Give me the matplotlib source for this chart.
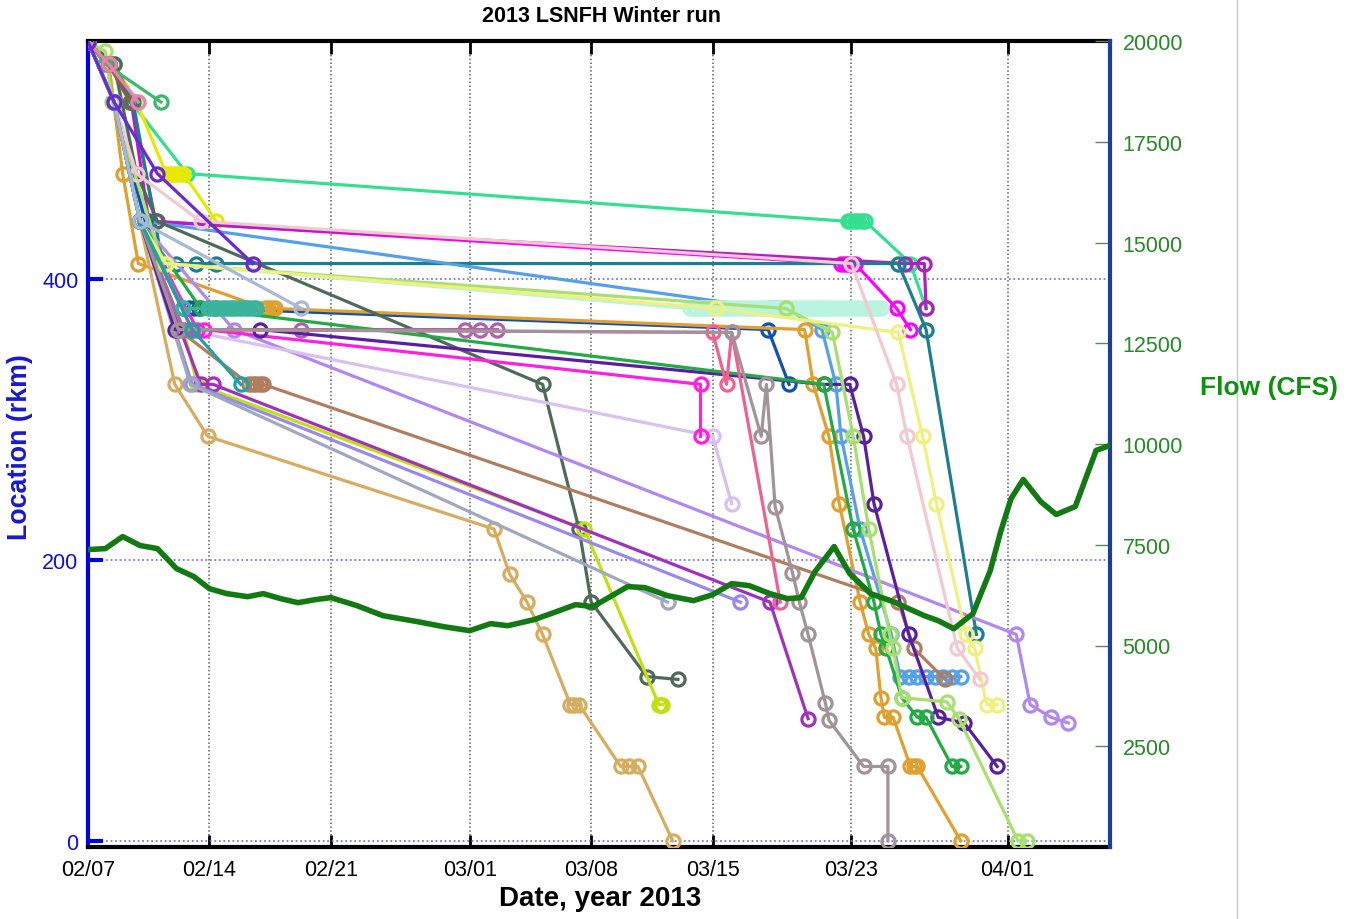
import matplotlib
matplotlib.use("Agg")
import matplotlib.pyplot as plt
from matplotlib.lines import Line2D

plt.rcParams['font.family'] = ['Liberation Sans', 'DejaVu Sans']

# ---------------- data (x = days after 02/07/2013, y = rkm) ----------------
date_ticks = [0, 7, 14, 22, 29, 36, 44, 53]
date_labels = ['02/07', '02/14', '02/21', '03/01', '03/08', '03/15', '03/23', '04/01']

flow_days = [0, 1.0, 2.0, 3.0, 4.0, 5.1, 6.1, 7.0, 8.0, 9.2, 10.1, 11.1, 12.1, 13.1, 14.0,
             15.5, 17.0, 19.0, 20.5, 22.0, 23.2, 24.2, 25.7, 27.0, 28.1, 29.1, 31.1, 32.1,
             33.4, 34.9, 36.0, 37.1, 38.1, 39.3, 40.3, 41.1, 41.9, 43.0, 43.9, 45.1, 46.4,
             48.2, 49.0, 49.9, 51.0, 52.0, 52.6, 53.2, 53.9, 54.9, 55.8, 56.9, 58.1, 58.9]
flow_cfs = [7380, 7405, 7703, 7480, 7405, 6908, 6710, 6410, 6287, 6212, 6287, 6163, 6063, 6138,
            6188, 5989, 5740, 5591, 5467, 5368, 5542, 5492, 5641, 5840, 6014, 5964, 6461, 6436,
            6237, 6113, 6262, 6536, 6486, 6287, 6163, 6188, 6834, 7455, 6784, 6287, 6088,
            5740, 5616, 5417, 5790, 6859, 7828, 8648, 9120, 8573, 8250, 8449, 9841, 9965]

f01_d = [0, 1.5, 2.5, 5.7, 43.8, 44.0, 44.2, 44.4, 44.6, 44.8, 47.4, 48.3]
f01_r = [569, 553, 526, 475, 441, 441, 441, 441, 441, 441, 411, 379]
f02_d = [0, 1.5, 2.8, 4.5, 4.7, 4.9, 5.1, 5.3, 5.5, 7.4]
f02_r = [569, 553, 526, 475, 475, 475, 475, 475, 475, 441]
f03_d = [0, 1.2, 2.5, 3.9, 43.4, 43.6, 43.8, 44.0, 44.2, 46.6, 47.4]
f03_r = [569, 553, 526, 441, 411, 411, 411, 411, 411, 379, 364]
f04_d = [0, 1.2, 2.5, 3.5, 47.1, 48.2, 48.3]
f04_r = [569, 553, 526, 441, 411, 411, 379]
f05_d = [0, 1.5, 2.6, 4.3, 5.1, 6.2, 7.4, 46.7, 48.3, 51.2]
f05_r = [569, 553, 526, 411, 411, 411, 411, 411, 364, 147]
f06_d = [0, 1.5, 3.3, 39.3, 39.6, 39.9, 40.2, 42.3, 43.1, 43.4, 44.5, 46.3, 46.8, 47.3,
         47.8, 48.3, 48.8, 49.3, 49.8, 50.3]
f06_r = [569, 526, 441, 379, 379, 379, 379, 364, 325, 288, 222, 147, 117, 117,
         117, 117, 117, 117, 117, 117]
f07_d = [0, 1.5, 3.2, 4.5,
         34.7, 34.9, 35.1, 35.3, 35.5, 35.7, 35.9, 36.1, 36.3, 36.5, 36.7, 36.9, 37.1, 37.3,
         37.5, 37.7, 37.9, 38.1, 38.3, 38.5, 38.7, 38.9, 39.1, 39.3, 39.5, 39.7, 39.9, 40.1,
         40.3, 40.5, 40.7, 40.9, 41.1, 41.3, 41.5, 41.7, 41.9, 42.1, 42.3, 42.5, 42.7, 42.9,
         43.1, 43.3, 43.5, 43.7, 43.9, 44.1, 44.3, 44.5, 44.7, 44.9, 45.1, 45.3, 45.5, 45.7]
f07_r = [569, 553, 441, 411,
         379, 379, 379, 379, 379, 379, 379, 379, 379, 379, 379, 379, 379, 379,
         379, 379, 379, 379, 379, 379, 379, 379, 379, 379, 379, 379, 379, 379,
         379, 379, 379, 379, 379, 379, 379, 379, 379, 379, 379, 379, 379, 379,
         379, 379, 379, 379, 379, 379, 379, 379, 379, 379, 379, 379, 379, 379]
f08_d = [0, 1.5, 3.3, 5.5, 5.8, 6.1, 6.4, 7.3, 39.2, 40.4]
f08_r = [569, 526, 441, 379, 379, 379, 379, 379, 364, 325]
f09_d = [0, 1.2, 2.0, 2.9, 10.2, 10.4, 10.6, 10.8, 41.3, 41.8, 42.7, 43.3, 44.5, 45.0, 45.4,
         45.7, 45.9, 46.4, 47.4, 47.6, 47.8, 50.3]
f09_r = [569, 553, 475, 411, 379, 379, 379, 379, 364, 325, 288, 240, 170, 147, 137,
         102, 88, 88, 53, 53, 53, 0]
f10_d = [0, 1.5, 5.0, 6.9, 23.4, 24.3, 25.3, 26.2, 27.8, 28.0, 28.3, 30.7, 31.2, 31.7, 33.7]
f10_r = [569, 526, 325, 288, 222, 190, 170, 147, 97, 97, 97, 53, 53, 53, 0]
f11_d = [0, 1.5, 2.8, 4.0, 26.2, 28.3, 29.0, 32.2, 34.0]
f11_r = [569, 553, 475, 441, 325, 222, 170, 117, 115]
f12_d = [0, 1.5, 3.0, 5.5, 6.3, 28.6, 32.9, 33.0, 33.1]
f12_r = [569, 526, 441, 364, 325, 222, 97, 97, 97]
f13_d = [0, 1.5, 3.0, 6.5, 7.2, 39.3, 41.5]
f13_r = [569, 526, 441, 325, 325, 170, 87]
f14_d = [0, 1.5, 3.0, 6.0, 37.6]
f14_r = [569, 526, 441, 325, 170]
f15_d = [0, 1.5, 3.0, 5.9, 33.4]
f15_r = [569, 526, 441, 325, 170]
f16_d = [0, 1.5, 3.0, 5.2, 9.3, 9.5, 9.7, 9.9, 10.1, 46.7, 47.6, 49.4]
f16_r = [569, 526, 441, 364, 325, 325, 325, 325, 325, 170, 137, 115]
f17_d = [0, 1.5, 3.0, 8.4, 53.5, 54.3, 55.5, 56.5]
f17_r = [569, 526, 441, 364, 147, 97, 88, 84]
f18_d = [0, 1.5, 3.0, 5.5, 36.0, 37.1]
f18_r = [569, 526, 441, 364, 288, 240]
f19_d = [0, 1.5, 3.0, 6.3, 6.7, 35.3, 35.3]
f19_r = [569, 526, 441, 364, 364, 325, 288]
f20_d = [0, 1.5, 3.0, 5.5, 12.3, 21.7, 22.6, 23.6]
f20_r = [569, 526, 441, 364, 364, 364, 364, 364]
f21_d = [0, 1.5, 3.0, 5.0, 9.9, 42.4, 43.9, 44.7, 45.3, 47.3, 49.0, 50.5, 52.4]
f21_r = [569, 526, 441, 364, 364, 325, 325, 288, 240, 147, 88, 84, 53]
f22_d = [0, 1.5, 3.0, 6.5, 42.4, 44.1, 45.3, 45.7, 46.0, 46.9, 47.8, 48.3, 49.8, 50.3]
f22_r = [569, 526, 441, 379, 325, 222, 170, 147, 137, 102, 88, 88, 53, 53]
f23_d = [0, 1.0, 1.4, 4.3, 40.2, 42.9, 44.1, 45.0, 46.2, 46.4, 46.9, 49.5, 50.2, 53.6, 54.1]
f23_r = [569, 562, 526, 411, 379, 362, 288, 222, 147, 137, 102, 99, 87, 0, 0]
f24_d = [0, 1.5, 3.0, 4.5, 36.2, 46.7, 48.1, 48.9, 50.6, 51.1, 51.8, 52.4]
f24_r = [569, 526, 441, 411, 379, 362, 288, 240, 147, 137, 97, 97]
f25_d = [0, 1.5, 2.8, 6.5, 44.0, 46.6, 47.2, 50.1, 51.4]
f25_r = [569, 526, 475, 441, 411, 325, 288, 137, 115]
f26_d = [0, 1.5, 3.0, 6.0, 36.0, 36.8, 37.1, 39.9]
f26_r = [569, 526, 441, 364, 362, 325, 362, 170]
f27_d = [0, 1.5, 3.0, 5.2, 37.1, 38.8, 39.1, 39.6, 40.6, 41.0, 41.5, 42.5, 42.7, 44.7, 46.1, 46.1]
f27_r = [569, 526, 441, 364, 362, 288, 325, 238, 191, 170, 147, 98, 86, 53, 53, 0]
f28_d = [0, 1.5, 3.0, 5.5, 6.9, 7.1, 7.3, 7.5, 7.7, 7.9, 8.1, 8.3, 8.5, 8.7, 8.9, 9.1, 9.3,
         9.5, 9.7]
f28_r = [569, 526, 441, 379, 379, 379, 379, 379, 379, 379, 379, 379, 379, 379, 379, 379, 379,
         379, 379]
f29_d = [0, 1.5, 3.0, 6.0, 8.8]
f29_r = [569, 526, 441, 364, 325]
f30_d = [0, 1.0, 4.2]
f30_r = [569, 553, 526]
f31_d = [0, 1.2, 2.4]
f31_r = [569, 553, 526]
f32_d = [0, 1.2, 2.9]
f32_r = [569, 553, 526]
f33_d = [0, 1.5, 3.0, 12.3]
f33_r = [569, 526, 441, 379]
f34_d = [0, 1.5, 4.0, 9.5]
f34_r = [569, 526, 475, 411]

fish_colors = ['#33e08f', '#e8e800', '#ff00ff', '#b020c0', '#1b7f8f', '#55a0e8', '#b8f4e0',
               '#1050b0', '#e0a030', '#d8ac60', '#4f6a5a', '#c0e010', '#a030c0', '#9988ee',
               '#a0a8c0', '#b07d5e', '#b088f0', '#d8c0f0', '#ff20e0', '#b060b0', '#5a1fa0',
               '#22aa44', '#a8e070', '#f0f080', '#f4c8d0', '#f06090', '#a09498', '#3bb49e',
               '#20a0a0', '#3cb86a', '#7a6a3a', '#ee80b0', '#a8b8d8', '#6a2ad0']

tracks_d = [f01_d, f02_d, f03_d, f04_d, f05_d, f06_d, f07_d, f08_d, f09_d, f10_d, f11_d, f12_d,
            f13_d, f14_d, f15_d, f16_d, f17_d, f18_d, f19_d, f20_d, f21_d, f22_d, f23_d, f24_d,
            f25_d, f26_d, f27_d, f28_d, f29_d, f30_d, f31_d, f32_d, f33_d, f34_d]
tracks_r = [f01_r, f02_r, f03_r, f04_r, f05_r, f06_r, f07_r, f08_r, f09_r, f10_r, f11_r, f12_r,
            f13_r, f14_r, f15_r, f16_r, f17_r, f18_r, f19_r, f20_r, f21_r, f22_r, f23_r, f24_r,
            f25_r, f26_r, f27_r, f28_r, f29_r, f30_r, f31_r, f32_r, f33_r, f34_r]

# ---------------- figure ----------------
fig = plt.figure(figsize=(13.59, 9.2), dpi=100)
ax = fig.add_axes([88 / 1359, 1 - 848 / 920, (1110 - 88) / 1359, (848 - 42) / 920])
ax.set_xlim(0, 58.9)
ax.set_ylim(-4.3, 569.4)

for d, r, c in zip(tracks_d, tracks_r, fish_colors):
    ax.plot(d, r, '-o', color=c, lw=2.3, ms=9.5, mew=2.3, mfc='none', zorder=3)

ax.set_xticks(date_ticks)
ax.set_xticklabels(date_labels, fontsize=15.5)
ax.set_yticks([0, 200, 400])
ax.set_yticklabels(['0', '200', '400'], fontsize=15.5, color='#1010d8')
ax.tick_params(axis='x', direction='in', length=9, width=2, top=True, bottom=True,
               color='black', pad=9)
ax.tick_params(axis='y', direction='in', length=11, width=3, left=True, right=True,
               color='#0000d0', pad=7)
ax.xaxis.grid(True, linestyle=(0, (1, 1.5)), color='#606060', lw=1.1)
ax.yaxis.grid(True, linestyle=(0, (1, 1.5)), color='#7a7ae6', lw=1.3)
ax.set_axisbelow(True)
for s in ['top', 'bottom']:
    ax.spines[s].set_color('black')
    ax.spines[s].set_linewidth(3)
ax.spines['left'].set_color('#0000e0')
ax.spines['left'].set_linewidth(3)
ax.spines['right'].set_visible(False)

ax2 = ax.twinx()
ax2.set_ylim(0, 20000)
ax2.plot(flow_days, flow_cfs, color='#137a13', lw=4, zorder=4)
ax2.set_yticks([2500, 5000, 7500, 10000, 12500, 15000, 17500, 20000])
ax2.set_yticklabels(['2500', '5000', '7500', '10000', '12500', '15000', '17500', '20000'],
                    fontsize=15.5, color='#268a26')
ax2.tick_params(axis='y', direction='in', length=11, width=1, color='#5a8a5a', pad=9)
ax2.spines['right'].set_color('#1e3c9a')
ax2.spines['right'].set_linewidth(3)
ax2.spines['left'].set_visible(False)
ax2.spines['top'].set_visible(False)
ax2.spines['bottom'].set_visible(False)

fig.text(601 / 1359, 1 - 17 / 920, '2013 LSNFH Winter run', ha='center', va='center',
         fontsize=15.5, fontweight='bold')
fig.text(600 / 1359, 1 - 899 / 920, 'Date, year 2013', ha='center', va='center',
         fontsize=20, fontweight='bold')
fig.text(20 / 1359, 1 - 447 / 920, 'Location (rkm)', ha='center', va='center',
         rotation=90, fontsize=19.3, fontweight='bold', color='#1818d0')
fig.text(1269 / 1359, 1 - 388 / 920, 'Flow (CFS)', ha='center', va='center',
         fontsize=19, fontweight='bold', color='#109010')

fig.add_artist(Line2D([1237 / 1359, 1237 / 1359], [0, 1], color='#c8c8c8', lw=1))

fig.savefig('out.png', dpi=100)
